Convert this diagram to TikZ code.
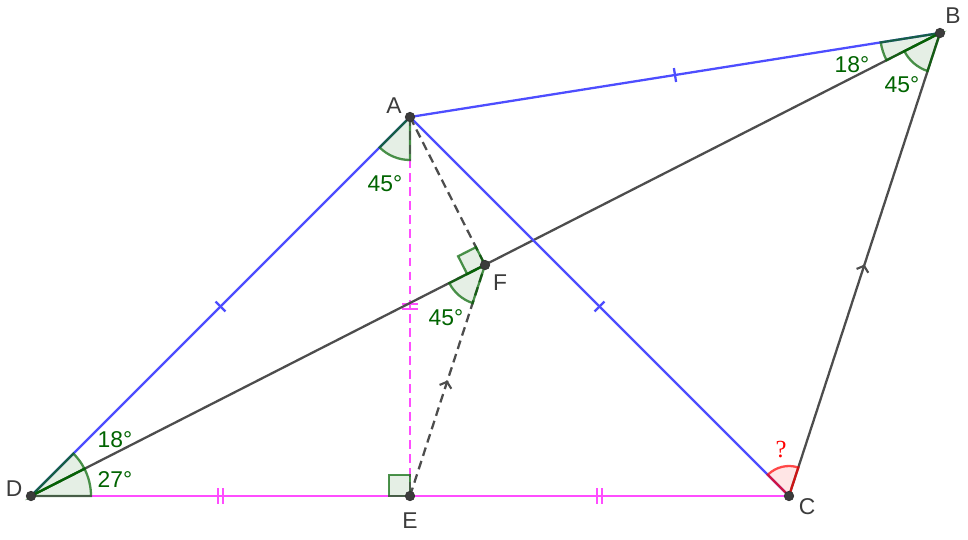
\documentclass[tikz,border=0pt]{standalone}
\usepackage{fontspec}
\setmainfont{Liberation Sans}
\newfontfamily\qserif{Liberation Serif}
\usetikzlibrary{decorations.markings,arrows.meta}
\definecolor{gblue}{RGB}{77,77,255}
\definecolor{gmag}{RGB}{255,77,255}
\definecolor{ggray}{RGB}{77,77,77}
\definecolor{ggreen}{RGB}{0,100,0}
\definecolor{gred}{RGB}{255,0,0}
\definecolor{glabel}{RGB}{60,60,60}
\definecolor{gdot}{RGB}{60,60,60}
\tikzset{
  seg/.style={line width=1.3pt},
  blueseg/.style={seg,draw=gblue},
  magseg/.style={seg,draw=gmag},
  grayseg/.style={seg,draw=ggray},
  dashseg/.style={dash pattern=on 5pt off 3pt},
  tickone/.style={postaction={decorate,decoration={markings,mark=at position 0.5 with {\draw[solid,line width=1.3pt,#1] (0,-4pt)--(0,4pt);}}}},
  ticktwo/.style={postaction={decorate,decoration={markings,mark=at position 0.5 with {\draw[solid,line width=1.3pt,#1] (-1.6pt,-4.5pt)--(-1.6pt,4.5pt) (1.6pt,-4.5pt)--(1.6pt,4.5pt);}}}},
  midarrow/.style={postaction={decorate,decoration={markings,mark=at position 0.5 with {\arrow[solid,#1]{Straight Barb[length=3pt,width=7pt,line width=1.2pt]}}}}},
  gsector/.style={fill=ggreen,fill opacity=0.1,draw=ggreen,draw opacity=0.7,line width=1.3pt},
  rsector/.style={fill=gred,fill opacity=0.1,draw=gred,draw opacity=0.7,line width=1.3pt},
  ptdot/.style={circle,inner sep=0pt,minimum size=5.4pt,fill=gdot,draw=black!80,line width=0.4pt},
  ptlabel/.style={text=glabel,font=\fontsize{13}{15}\selectfont,inner sep=0pt},
  anglabel/.style={text=ggreen,font=\fontsize{13}{15}\selectfont,inner sep=0pt}
}
\begin{document}
\begin{tikzpicture}[x=0.02cm,y=-0.02cm]
\useasboundingbox[fill=white] (0,0) rectangle (968,539);
\coordinate (D) at (31,496);
\coordinate (E) at (410,496);
\coordinate (C) at (789,496);
\coordinate (A) at (410,117);
\coordinate (B) at (940,33);
\coordinate (F) at (485,265);

% segments
\draw[magseg,ticktwo=gmag] (D) -- (E);
\draw[magseg,ticktwo=gmag] (E) -- (C);
\draw[magseg,dashseg,ticktwo=gmag] (A) -- (E);
\draw[grayseg] (D) -- (B);
\draw[grayseg,midarrow=ggray] (C) -- (B);
\draw[blueseg,tickone=gblue] (A) -- (B);
\draw[blueseg,tickone=gblue] (D) -- (A);
\draw[blueseg,tickone=gblue] (A) -- (C);
\draw[grayseg,dashseg] (A) -- (F);
\draw[grayseg,dashseg,midarrow=ggray] (E) -- (F);

% angles at D
\draw[gsector] (D) -- ++(-45:60) arc[start angle=-45,end angle=-27,radius=60] -- cycle;
\draw[gsector] (D) -- ++(-27:60) arc[start angle=-27,end angle=0,radius=60] -- cycle;
% angle at A
\draw[gsector] (A) -- ++(90:43) arc[start angle=90,end angle=135,radius=43] -- cycle;
% angle at F
\draw[gsector] (F) -- ++(108:40) arc[start angle=108,end angle=153,radius=40] -- cycle;
\draw[gsector] (F) -- ++(153:20) -- ++(243.1:20) -- ++(333:20) -- cycle;
% angles at B
\draw[gsector] (B) -- ++(153:60) arc[start angle=153,end angle=171,radius=60] -- cycle;
\draw[gsector] (B) -- ++(108.1:40) arc[start angle=108.1,end angle=153,radius=40] -- cycle;
% right angle at E
\draw[gsector] (E) -- ++(-21,0) -- ++(0,-21) -- ++(21,0) -- cycle;
% angle at C
\draw[rsector] (C) -- ++(225:30) arc[start angle=225,end angle=288.1,radius=30] -- cycle;

% points
\foreach \p in {A,B,C,D,E,F} \node[ptdot] (dot\p) at (\p) {};

% point labels
\node[ptlabel] (lA) at (394,106) {A};
\node[ptlabel] (lB) at (953,16) {B};
\node[ptlabel] (lC) at (807,507) {C};
\node[ptlabel] (lD) at (14,489) {D};
\node[ptlabel] (lE) at (410,521) {E};
\node[ptlabel] (lF) at (500,283) {F};

% angle labels
\node[anglabel] (a1) at (115,440) {18°};
\node[anglabel] (a2) at (115,480) {27°};
\node[anglabel] (a3) at (385,184) {45°};
\node[anglabel] (a4) at (446,318) {45°};
\node[anglabel] (a5) at (852,65) {18°};
\node[anglabel] (a6) at (902,85) {45°};
\node[text=gred,font=\qserif\fontsize{14}{16}\selectfont,inner sep=0pt] (a7) at (781,450) {?};
\end{tikzpicture}
\end{document}
